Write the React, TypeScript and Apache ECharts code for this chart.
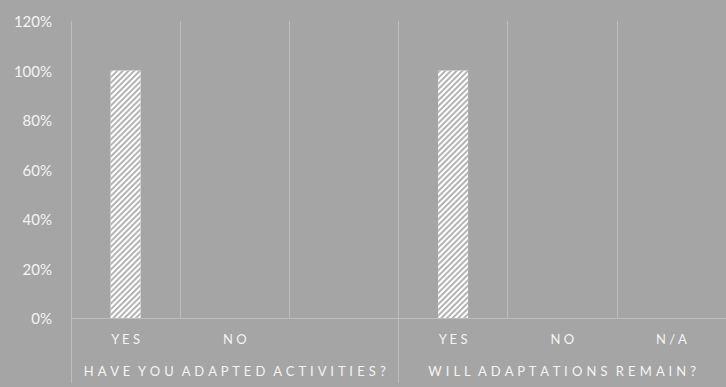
import React, { useEffect, useRef } from "react";
import * as echarts from "echarts";

const categories = ["YES", "NO", "", "YES", "NO", "N/A"];
const groups = ["HAVE YOU ADAPTED ACTIVITIES?", "WILL ADAPTATIONS REMAIN?"];
const values = [1, 0, null, 1, 0, 0];
const yTicks = [0, 0.2, 0.4, 0.6, 0.8, 1.0, 1.2];

const spaced = (s: string, gap: string, wordGap: string) =>
  s
    .split(" ")
    .map((w) => w.split("").join(gap))
    .join(wordGap);

export default function App() {
  const ref = useRef<HTMLDivElement>(null);
  useEffect(() => {
    document.body.style.margin = "0";
    const chart = echarts.init(ref.current!, null, { renderer: "svg" });
    const textColor = "#f4f4f4";
    const lineColor = "#bdbdbd";
    chart.setOption({
      animation: false,
      backgroundColor: "#a5a5a5",
      grid: { left: 71, top: 21, width: 657, height: 297, containLabel: false },
      yAxis: {
        type: "value",
        min: yTicks[0],
        max: yTicks[yTicks.length - 1],
        interval: 0.2,
        axisLine: { show: false },
        axisTick: { show: false },
        splitLine: { show: false },
        axisLabel: {
          color: textColor,
          fontFamily: "Lato",
          fontSize: 15,
          margin: 19,
          formatter: (v: number) => Math.round(v * 100) + "%",
        },
      },
      xAxis: [
        {
          type: "category",
          data: categories,
          position: "bottom",
          axisLine: { show: true, lineStyle: { color: lineColor, width: 1 } },
          axisTick: { show: false },
          splitLine: { show: true, interval: 0, lineStyle: { color: lineColor, width: 1 } },
          axisLabel: {
            interval: 0,
            color: textColor,
            fontFamily: "Lato",
            fontSize: 13,
            margin: 14,
            formatter: (v: string) => spaced(v, " ", "  "),
          },
        },
        {
          type: "category",
          data: groups,
          position: "bottom",
          axisLine: { show: false },
          axisTick: {
            show: true,
            interval: 0,
            length: 65,
            alignWithLabel: false,
            lineStyle: { color: lineColor, width: 1 },
          },
          splitLine: { show: false },
          axisLabel: {
            interval: 0,
            hideOverlap: false,
            color: textColor,
            fontFamily: "Lato",
            fontSize: 13,
            margin: 46,
            formatter: (v: string) => spaced(v, " \u200A", " \u200A\u200A "),
          },
        },
      ],
      series: [
        {
          type: "bar",
          xAxisIndex: 0,
          data: values,
          barWidth: 30,
          itemStyle: {
            color: "#ffffff",
            decal: {
              symbol: "rect",
              symbolSize: 1,
              color: "#b4b4b4",
              dashArrayX: [1, 0],
              dashArrayY: [2, 2],
              rotation: -Math.PI / 4,
            },
          },
        },
      ],
    });
    return () => chart.dispose();
  }, []);
  return <div ref={ref} style={{ width: 726, height: 387 }} />;
}
